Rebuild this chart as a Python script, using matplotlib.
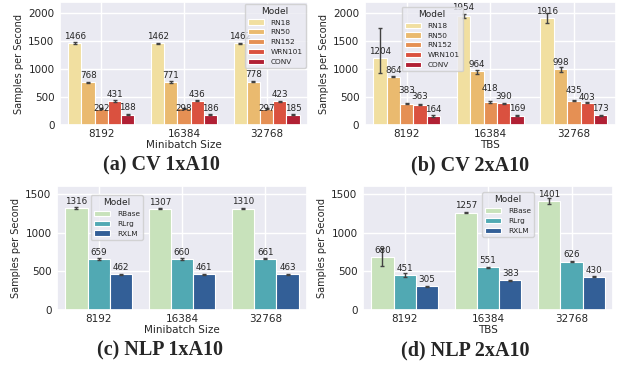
import matplotlib
matplotlib.use("Agg")
import matplotlib.pyplot as plt
import numpy as np
import seaborn as sns

sns.set_theme(style="darkgrid")
plt.rcParams['font.family'] = ['DejaVu Sans']

# data
batches = ["8192", "16384", "32768"]
cv_models = ["RN18", "RN50", "RN152", "WRN101", "CONV"]
nlp_models = ["RBase", "RLrg", "RXLM"]

cv1_vals = [[1466, 1462, 1462], [768, 771, 778], [292, 298, 297], [431, 436, 423], [188, 186, 185]]
cv1_lo = [[12, 12, 12], [10, 10, 10], [8, 8, 8], [10, 10, 10], [10, 10, 10]]
cv1_hi = [[12, 12, 12], [10, 10, 10], [8, 8, 8], [10, 10, 10], [10, 10, 10]]

cv2_vals = [[1204, 1954, 1916], [864, 964, 998], [383, 418, 435], [363, 390, 403], [164, 169, 173]]
cv2_lo = [[280, 35, 94], [10, 45, 40], [8, 15, 8], [10, 10, 10], [10, 10, 8]]
cv2_hi = [[530, 35, 84], [10, 30, 40], [8, 15, 8], [10, 10, 10], [10, 10, 8]]

nlp1_vals = [[1316, 1307, 1310], [659, 660, 661], [462, 461, 463]]
nlp1_lo = [[8, 8, 8], [8, 8, 8], [8, 8, 8]]
nlp1_hi = [[8, 8, 8], [8, 8, 8], [8, 8, 8]]

nlp2_vals = [[680, 1257, 1401], [451, 551, 626], [305, 383, 430]]
nlp2_lo = [[110, 10, 30], [25, 10, 8], [10, 10, 8]]
nlp2_hi = [[115, 10, 45], [25, 10, 8], [10, 10, 8]]

# label nudges (pixels above bar top) where labels were pushed apart
cv1_nudge = {(2, 0): 0, (2, 1): 0, (2, 2): 0}
cv2_nudge = {(0, 1): 8.0, (2, 0): 13, (2, 1): 13, (2, 2): 10, (3, 0): 8.5, (3, 2): 5.5}

cv_colors = [sns.desaturate(c, 0.75) for c in sns.color_palette("YlOrRd", 5)]
nlp_colors = [sns.desaturate(c, 0.75) for c in sns.color_palette("YlGnBu", 3)]

fig = plt.figure(figsize=(6.27, 3.67), dpi=100)


def draw(rect, vals, lo, hi, models, colors, ylim, yticks, xlabel, caption, cap_x, cap_y,
         leg, nudge):
    ax = fig.add_axes(rect)
    n = len(models)
    w = 0.8 / n
    x = np.arange(len(batches))
    for j, m in enumerate(models):
        pos = x - 0.4 + w * (j + 0.5)
        ax.bar(pos, vals[j], width=w, color=colors[j], edgecolor="white",
               linewidth=0.8, label=m, zorder=2)
        ax.errorbar(pos, vals[j], yerr=[lo[j], hi[j]], fmt="none", ecolor="#424242",
                    elinewidth=1.0, capsize=1.5, capthick=1.0, zorder=3)
        for i in range(len(batches)):
            dy = nudge.get((j, i), 6.7) * 0.72
            ax.annotate(f"{vals[j][i]}", (pos[i], vals[j][i]), xytext=(0, dy),
                        textcoords="offset points", ha="center", va="center",
                        fontsize=6.3, color="#262626", zorder=4)
    ax.set_xticks(x)
    ax.set_xticklabels(batches)
    ax.set_xlim(-0.5, len(batches) - 0.5)
    ax.set_ylim(*ylim)
    ax.set_yticks(yticks)
    ax.tick_params(axis="both", length=0, labelsize=7.5, colors="#262626")
    ax.tick_params(axis="x", pad=3)
    ax.tick_params(axis="y", pad=4)
    ax.set_xlabel(xlabel, fontsize=7.5, labelpad=0.5, color="#262626")
    ax.set_ylabel("Samples per Second", fontsize=7, labelpad=3, color="#262626")
    ax.legend(title="Model", fontsize=5.3, title_fontsize=6.5, loc=leg[0],
              bbox_to_anchor=leg[1], borderaxespad=0, handlelength=2.2,
              handleheight=0.7, labelspacing=0.5, borderpad=0.4, handletextpad=0.9)
    fig.text(cap_x, cap_y, caption, ha="center", va="center", fontsize=14.5,
             fontweight="bold", family="Liberation Serif")
    return ax


draw([0.0957, 0.659, 0.3955, 0.3355], cv1_vals, cv1_lo, cv1_hi, cv_models, cv_colors,
     (0, 2200), [0, 500, 1000, 1500, 2000], "Minibatch Size", "(a) CV 1xA10",
     161 / 627, 1 - 165 / 367, ("upper right", (0.99, 0.985)), cv1_nudge)
draw([0.582, 0.659, 0.400, 0.3355], cv2_vals, cv2_lo, cv2_hi, cv_models, cv_colors,
     (0, 2200), [0, 500, 1000, 1500, 2000], "TBS", "(b) CV 2xA10",
     470 / 627, 1 - 165 / 367, ("upper left", (0.147, 0.96)), cv2_nudge)
draw([0.0909, 0.155, 0.3987, 0.338], nlp1_vals, nlp1_lo, nlp1_hi, nlp_models, nlp_colors,
     (0, 1600), [0, 500, 1000, 1500], "Minibatch Size", "(c) NLP 1xA10",
     160 / 627, 1 - 350 / 367, ("upper left", (0.136, 0.927)), {})
draw([0.579, 0.155, 0.399, 0.338], nlp2_vals, nlp2_lo, nlp2_hi, nlp_models, nlp_colors,
     (0, 1600), [0, 500, 1000, 1500], "TBS", "(d) NLP 2xA10",
     465 / 627, 1 - 350 / 367, ("upper left", (0.476, 0.95)), {})

fig.savefig("out.png", dpi=100)
